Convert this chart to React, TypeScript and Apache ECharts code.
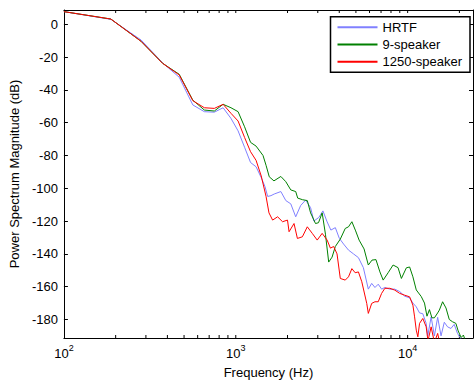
import { useEffect, useRef } from 'react';
import * as echarts from 'echarts';

const seriesNames = ['HRTF', '9-speaker', '1250-speaker'];
const seriesColors = ['#8080ff', '#008000', '#ff0000'];

const hrtfFreq = [100, 187.5, 281.25, 375, 468.75, 562.5, 656.25, 750, 843.75, 937.5, 1031.25, 1125, 1218.75, 1312.5, 1406.25, 1479, 1533, 1602, 1674, 1829, 1955, 2089, 2232, 2385, 2549, 2724, 2846, 3041, 3215, 3400, 3575, 3795, 4002, 4237, 4528, 4838, 5170, 5525, 5904, 6177, 6453, 6742, 7053, 7369, 7874, 8415, 8993, 9609, 10269, 10729, 11224, 11726, 12251, 12817, 13092, 13696, 14309, 14950, 15640, 16340, 17072, 17860, 18659, 19494, 20205, 21589, 24000];
const hrtfDb = [7.7, 3.0, -9.6, -23.5, -32.3, -49.2, -53.3, -53.6, -50.9, -57.4, -65, -75, -84.3, -86.9, -93.5, -99, -105, -104.5, -103.5, -102, -107.5, -109.5, -117.4, -110.5, -107.2, -111.8, -120, -117.8, -113.8, -120.5, -125.5, -124, -130.5, -134, -137.7, -140, -142.3, -148.4, -161.5, -158, -160.5, -158.5, -161.5, -160.5, -161.5, -161.5, -163, -165.8, -166.8, -170, -172.3, -176, -176.5, -182.4, -190, -178.4, -190, -178.7, -190, -181.7, -184.5, -185.5, -183, -188.5, -191, -196, -200];

const spk9Freq = [100, 187.5, 281.25, 375, 468.75, 562.5, 656.25, 750, 843.75, 937.5, 1031.25, 1125, 1218.75, 1312.5, 1440, 1500, 1566, 1667, 1829, 1955, 2089, 2232, 2292, 2449, 2607, 2724, 2910, 3029, 3181, 3324, 3472, 3633, 3795, 4056, 4334, 4528, 4737, 4982, 5218, 5577, 5904, 6202, 6539, 6896, 7205, 7699, 8227, 8792, 9197, 9829, 10269, 10729, 11224, 11994, 12531, 12954, 13391, 13842, 14309, 14950, 15291, 15975, 16713, 17462, 18243, 19085, 19676, 20475, 21107, 22174, 24000];
const spk9Db = [7.7, 3.2, -10.4, -23.8, -30.5, -46.3, -52.3, -52.9, -48.8, -50.9, -53.3, -62.5, -72.0, -74.3, -80, -86, -93, -95.5, -92.8, -96, -101, -102, -106, -107, -107.5, -115, -121.5, -121, -115, -128, -145, -142, -135.5, -131, -124.5, -123.5, -120.4, -126, -131.6, -137, -146.8, -143.8, -143.5, -151, -156, -151.5, -146.8, -148.4, -155, -148.5, -148, -154, -162, -166, -170, -178, -174, -179, -179, -176, -174.3, -169.2, -173, -180, -181.4, -182.4, -187, -191, -189.5, -196, -200];

const spk1250Freq = [100, 187.5, 281.25, 375, 468.75, 562.5, 656.25, 750, 843.75, 937.5, 1031.25, 1125, 1218.75, 1312.5, 1406.25, 1500, 1560, 1638, 1751, 1871, 1999, 2042, 2182, 2283, 2440, 2607, 2786, 2977, 3181, 3400, 3552, 3711, 3882, 4056, 4334, 4528, 4737, 4949, 5170, 5409, 5780, 5904, 6177, 6453, 6742, 7053, 7369, 7874, 8415, 8993, 9609, 10269, 10729, 10973, 11224, 11465, 11726, 12251, 12817, 13127, 13696, 14309, 14950, 15495, 24000];
const spk1250Db = [7.7, 3.2, -10.4, -23.8, -30.9, -46.6, -50.9, -51.3, -48.8, -54.3, -59.0, -69.0, -77.7, -83.0, -92.5, -105, -115, -119.4, -117.4, -120.4, -119.4, -126.5, -121.5, -130.6, -129.6, -123.5, -127.5, -131.6, -127.5, -131.6, -136.5, -135.5, -140, -155, -156, -154, -149, -151.5, -151, -157, -170.2, -176.3, -170.2, -169.2, -169.2, -164.1, -161, -161, -162.1, -164.1, -165.2, -166.2, -171.3, -178.4, -186.5, -190.6, -182.4, -179.4, -184.5, -193, -184.5, -194, -188.5, -196, -205];

const xTickFreqs = [200, 300, 400, 500, 600, 700, 800, 900, 1000, 2000, 3000, 4000, 5000, 6000, 7000, 8000, 9000, 10000, 20000];

const X_MIN = 100;
const X_MAX = 24000;
const Y_MIN = -191.3;
const Y_MAX = 8.7;

export default function App() {
  const ref = useRef<HTMLDivElement>(null);
  useEffect(() => {
    const chart = echarts.init(ref.current!, null, { renderer: 'svg' });
    const font = 'Liberation Sans, Arial, Helvetica, sans-serif';
    const pairs = (f: number[], v: number[]) => f.map((x, i) => [x, v[i]]);
    const seriesData = [pairs(hrtfFreq, hrtfDb), pairs(spk9Freq, spk9Db), pairs(spk1250Freq, spk1250Db)];
    const xFmt = (v: number) => {
      const e = Math.round(Math.log10(v));
      if (Math.abs(v - Math.pow(10, e)) < 1e-6 * v) return `{b|10}{s|${e}}`;
      return '';
    };
    const frameLine = { show: true, onZero: false, lineStyle: { color: '#000', width: 1 } };
    chart.setOption({
      animation: false,
      backgroundColor: '#ffffff',
      textStyle: { fontFamily: font },
      grid: { left: 61, right: 2, top: 10, bottom: 50 },
      xAxis: [
        {
          type: 'log', logBase: 10, min: X_MIN, max: X_MAX, position: 'bottom',
          name: 'Frequency (Hz)', nameLocation: 'middle', nameGap: 28,
          nameTextStyle: { fontSize: 13, color: '#000', fontFamily: font },
          axisLine: frameLine,
          axisTick: { show: false }, minorTick: { show: false }, splitLine: { show: false },
          axisLabel: {
            margin: 5, color: '#000', formatter: xFmt,
            rich: {
              b: { fontSize: 13, lineHeight: 20, color: '#000', fontFamily: font },
              s: { fontSize: 9, lineHeight: 10, verticalAlign: 'top', color: '#000', fontFamily: font },
            },
          },
        },
        {
          type: 'log', logBase: 10, min: X_MIN, max: X_MAX, position: 'top',
          axisLine: frameLine,
          axisTick: { show: false }, axisLabel: { show: false }, splitLine: { show: false },
        },
      ],
      yAxis: [
        {
          type: 'value', min: Y_MIN, max: Y_MAX, splitNumber: 10, position: 'left',
          name: 'Power Spectrum Magnitude (dB)', nameLocation: 'middle', nameGap: 38,
          nameTextStyle: { fontSize: 13, color: '#000', fontFamily: font },
          axisLine: frameLine,
          axisTick: { show: true, inside: true, length: 4, lineStyle: { color: '#000' } },
          axisLabel: {
            margin: 6, fontSize: 13, color: '#000', fontFamily: font,
            formatter: (v: number) => (Math.abs(v % 20) < 1e-6 ? String(Math.round(v)) : ''),
          },
          splitLine: { show: false },
        },
        {
          type: 'value', min: Y_MIN, max: Y_MAX, splitNumber: 10, position: 'right',
          axisLine: frameLine,
          axisTick: { show: true, inside: true, length: 4, lineStyle: { color: '#000' } },
          axisLabel: { show: false }, splitLine: { show: false },
        },
      ],
      legend: {
        data: seriesNames,
        orient: 'vertical',
        right: 6, top: 16.7,
        padding: [4, 8, 4, 6],
        itemWidth: 40, itemHeight: 13, itemGap: 4.3,
        backgroundColor: '#fff', borderColor: '#000', borderWidth: 1.5, borderRadius: 0,
        textStyle: { fontSize: 13, color: '#000', fontFamily: font },
        itemStyle: { opacity: 0 },
        selectedMode: false,
      },
      series: [
        ...seriesNames.map((name, i) => ({
          name, type: 'line', data: seriesData[i], symbol: 'none', showSymbol: false,
          xAxisIndex: 0, yAxisIndex: 0, clip: true,
          lineStyle: { color: seriesColors[i], width: 1 }, itemStyle: { color: seriesColors[i] },
        })),
        {
          name: 'xticks', type: 'custom', xAxisIndex: 0, yAxisIndex: 0, silent: true, clip: false,
          data: xTickFreqs.map((f) => [f, Y_MIN]),
          encode: { x: 0, y: 1 },
          renderItem: (_p: any, api: any) => {
            const f = api.value(0);
            const b = api.coord([f, Y_MIN]);
            const t = api.coord([f, Y_MAX]);
            return {
              type: 'group',
              children: [
                { type: 'line', shape: { x1: b[0], y1: b[1], x2: b[0], y2: b[1] - 3 }, style: { stroke: '#000', lineWidth: 1 } },
                { type: 'line', shape: { x1: t[0], y1: t[1], x2: t[0], y2: t[1] + 3 }, style: { stroke: '#000', lineWidth: 1 } },
              ],
            };
          },
        },
      ],
    });
    return () => chart.dispose();
  }, []);
  return <div ref={ref} style={{ position: 'fixed', left: 0, top: 0, width: 476, height: 388, background: '#fff' }} />;
}
